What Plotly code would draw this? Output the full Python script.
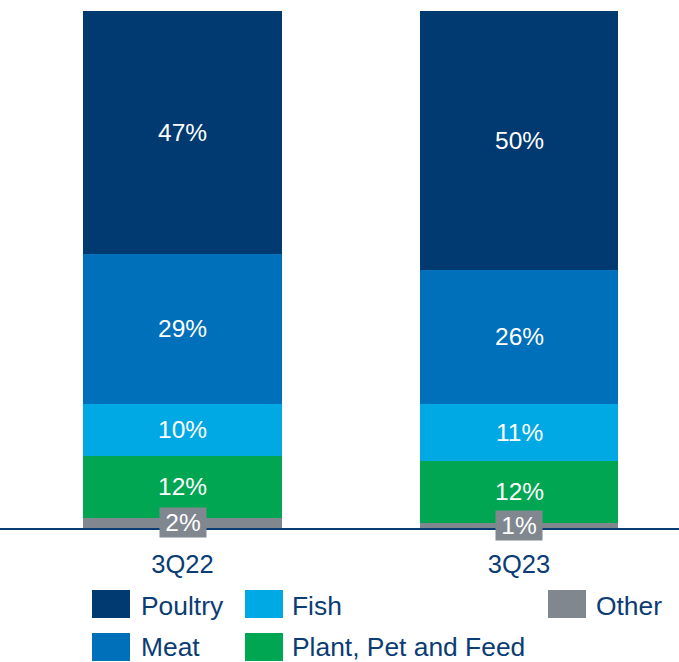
import plotly.graph_objects as go

categories = ["3Q22", "3Q23"]
series_names = ["Other", "Plant, Pet and Feed", "Fish", "Meat", "Poultry"]
other = [2, 1]
plant = [12, 12]
fish = [10, 11]
meat = [29, 26]
poultry = [47, 50]

colors = {
    "Poultry": "#003A70",
    "Meat": "#0070BA",
    "Fish": "#00A9E4",
    "Plant, Pet and Feed": "#00A651",
    "Other": "#80878F",
}
TEXT = "#0B3C74"
FONT = "Liberation Sans, Arial, sans-serif"

values = {"Other": other, "Plant, Pet and Feed": plant, "Fish": fish,
          "Meat": meat, "Poultry": poultry}

W, H = 679, 662
top_px, base_px = 11, 528
plot_h = base_px - top_px

fig = go.Figure()
xs = [0, 1]
for name in series_names:
    fig.add_trace(go.Bar(x=xs, y=values[name], name=name,
                         marker=dict(color=colors[name], line=dict(width=0)),
                         width=0.591, showlegend=False, hoverinfo="skip"))

# value labels at segment midpoints
cum = [0, 0]
for name in series_names:
    for i in range(2):
        v = values[name][i]
        mid = cum[i] + v / 2
        cum[i] += v
        if name == "Other":
            fig.add_annotation(x=xs[i], y=mid, text=f"{v}%", showarrow=False,
                               font=dict(family=FONT, size=24.5, color="white"),
                               bgcolor=colors["Other"], borderpad=0,
                               width=46, height=29)
        else:
            fig.add_annotation(x=xs[i], y=mid, text=f"{v}%", showarrow=False,
                               font=dict(family=FONT, size=24.5, color="white"))

# custom legend
def py(p):
    return (base_px - p) / plot_h

legend_items = [
    ("Poultry", 92, 590, 140, 16),
    ("Fish", 245, 590, 291, 16),
    ("Other", 548, 590, 595, 16),
    ("Meat", 92, 633, 140, 14),
    ("Plant, Pet and Feed", 245, 633, 291, 14),
]
for name, x0, y0, tx, dy in legend_items:
    fig.add_shape(type="rect", xref="paper", yref="paper",
                  x0=x0 / W, x1=(x0 + 38) / W, y0=py(y0), y1=py(y0 + 28),
                  fillcolor=colors[name], line=dict(width=0))
    fig.add_annotation(xref="paper", yref="paper", x=tx / W, y=py(y0 + dy),
                       xanchor="left", yanchor="middle", text=name,
                       showarrow=False, borderpad=0,
                       font=dict(family=FONT, size=26.4, color=TEXT))

fig.update_layout(
    width=W, height=H, barmode="stack",
    margin=dict(l=0, r=0, t=top_px, b=H - base_px, pad=0),
    plot_bgcolor="white", paper_bgcolor="white",
    bargap=0,
    xaxis=dict(range=[-182.5 / 336.5, (W - 182.5) / 336.5],
               tickmode="array", tickvals=xs, ticktext=categories,
               showline=True, linecolor="#0B3C74", linewidth=2,
               showgrid=False, zeroline=False, ticks="",
               ticklabelstandoff=12,
               tickfont=dict(family=FONT, size=25.5, color=TEXT)),
    yaxis=dict(range=[0, 100], visible=False, showgrid=False),
)

fig.write_html("out.html")
